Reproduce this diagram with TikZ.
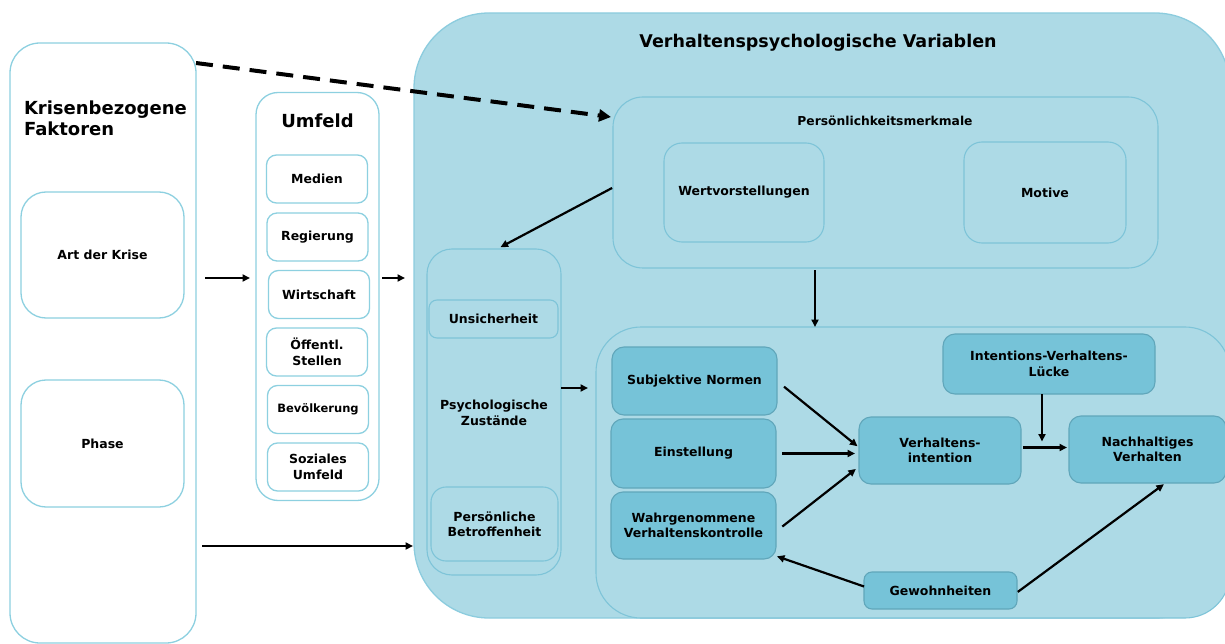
\documentclass[tikz,border=0pt]{standalone}
\usepackage{fontspec}
\setmainfont{DejaVu Sans}
\usetikzlibrary{arrows.meta}

\definecolor{paleline}{RGB}{141,208,224}
\definecolor{outerfill}{RGB}{173,218,230}
\definecolor{outerline}{RGB}{140,204,222}
\definecolor{innerline}{RGB}{126,196,216}
\definecolor{darkfill}{RGB}{118,195,216}
\definecolor{darkline}{RGB}{96,166,186}

\newcommand\txt[2]{\fontsize{#1}{#2}\selectfont\bfseries}

\tikzset{
  base/.style={align=center, inner sep=0pt, outer sep=0pt, text=black,
    font=\txt{12.5}{15.5}},
  whitebox/.style={base, draw=paleline, line width=1.3pt, fill=white},
  lightbox/.style={base, draw=innerline, line width=1.1pt, fill=outerfill},
  darkbox/.style={base, draw=darkline, line width=1.1pt, fill=darkfill},
  arr/.style={draw=black, line width=2.2pt,
    -{Triangle[length=7.5pt,width=7pt]}},
  dasharr/.style={draw=black, line width=4pt, dash pattern=on 17pt off 10pt,
    -{Triangle[length=12pt,width=12pt]}},
}

\begin{document}
\begin{tikzpicture}[x=1pt,y=-1pt]
\useasboundingbox (0,0) rectangle (1225,644);
\begin{scope}
\clip (0,0) rectangle (1225,644);

% crisis-related factors
\node[whitebox, rounded corners=30pt, minimum width=186pt, minimum height=600pt] (krisen) at (103,343) {};
\node[base, anchor=north west, align=left, font=\txt{18}{20.5}] (krisentitel) at (24,101) {Krisenbezogene\\Faktoren};
\node[whitebox, rounded corners=25pt, minimum width=163pt, minimum height=126pt] (art) at (102.5,255) {Art der Krise};
\node[whitebox, rounded corners=25pt, minimum width=163pt, minimum height=127pt] (phase) at (102.5,443.5) {Phase};

% environment
\node[whitebox, rounded corners=22pt, minimum width=123pt, minimum height=408pt] (umfeld) at (317.5,296.5) {};
\node[base, font=\txt{18}{20.5}] (umfeldtitel) at (317.5,121) {Umfeld};
\tikzset{sub/.style={whitebox, rounded corners=10pt, minimum width=101pt, minimum height=48pt}}
\node[sub] (medien) at (317,179) {Medien};
\node[sub] (regierung) at (317.5,237) {Regierung};
\node[sub] (wirtschaft) at (319,294.5) {Wirtschaft};
\node[sub] (stellen) at (317,352) {Öffentl.\\Stellen};
\node[sub, font=\txt{11.5}{14}] (bevoelkerung) at (318,409.5) {Bevölkerung};
\node[sub] (sozial) at (318,467) {Soziales\\Umfeld};

% behavioural-psychological variables
\node[base, draw=outerline, line width=1.3pt, fill=outerfill, rounded corners=75pt,
  minimum width=816pt, minimum height=605pt] (outer) at (822,315.5) {};
\node[base, font=\txt{17.5}{20}] (outertitel) at (818,43) {Verhaltenspsychologische Variablen};

% personality traits
\node[lightbox, rounded corners=30pt, minimum width=545pt, minimum height=171pt] (pers) at (885.5,182.5) {};
\node[base, font=\txt{12.3}{15}] (perstitel) at (885,121) {Persönlichkeitsmerkmale};
\node[lightbox, rounded corners=18pt, minimum width=160pt, minimum height=99pt] (wert) at (744,192.5) {Wertvorstellungen};
\node[lightbox, rounded corners=18pt, minimum width=162pt, minimum height=101pt] (motive) at (1045,192.5) {Motive};

% psychological states
\node[lightbox, rounded corners=25pt, minimum width=134pt, minimum height=326pt] (psych) at (494,412) {};
\node[base] (psychtitel) at (494,413) {Psychologische\\Zustände};
\node[lightbox, rounded corners=8pt, minimum width=129pt, minimum height=38pt] (unsicher) at (493.5,319) {Unsicherheit};
\node[lightbox, rounded corners=15pt, minimum width=127pt, minimum height=74pt] (betroffen) at (494.5,524) {Persönliche\\Betroffenheit};

% theory of planned behaviour
\node[lightbox, rounded corners=45pt, minimum width=634pt, minimum height=291pt] (tra) at (913,472.5) {};
\tikzset{core/.style={darkbox, rounded corners=12pt}}
\node[core, minimum width=165pt, minimum height=68pt] (normen) at (694.5,381) {Subjektive Normen};
\node[core, minimum width=165pt, minimum height=69pt] (einstellung) at (693.5,453.5) {Einstellung};
\node[core, minimum width=165pt, minimum height=67pt] (kontrolle) at (693.5,525.5) {Wahrgenommene\\Verhaltenskontrolle};
\node[core, minimum width=162pt, minimum height=67pt] (intention) at (940,450.5) {Verhaltens-\\intention};
\node[core, minimum width=157pt, minimum height=67pt] (verhalten) at (1147.5,449.5) {Nachhaltiges\\Verhalten};
\node[core, minimum width=212pt, minimum height=60pt] (luecke) at (1049,364) {Intentions-Verhaltens-\\Lücke};
\node[core, rounded corners=8pt, minimum width=153pt, minimum height=37pt] (gewohnheit) at (940.5,590.5) {Gewohnheiten};

% row levels for horizontal connectors
\coordinate (rowA) at (0,278);
\coordinate (rowB) at (0,546);
\coordinate (rowC) at (0,388);
\coordinate (colA) at (815,0);

% connectors
\draw[dasharr] ([yshift=-20pt]krisen.north east) -- ([xshift=-2pt,yshift=-20pt]pers.north west);
\draw[arr, shorten <=9pt, shorten >=6pt] (krisen.east |- rowA) -- (umfeld.west |- rowA);
\draw[arr, shorten <=3pt, shorten >=9pt] (umfeld.east |- rowA) -- (outer.west |- rowA);
\draw[arr, shorten <=6pt, shorten >=1pt] (krisen.east |- rowB) -- (outer.west |- rowB);
\draw[arr, shorten <=1pt, shorten >=4pt] ([yshift=-5pt]pers.west) -- ([xshift=3pt]psych.north);
\draw[arr, shorten <=2pt] (pers.south -| colA) -- (tra.north -| colA);
\draw[arr, shorten >=8pt] (psych.east |- rowC) -- (tra.west |- rowC);
\draw[arr, shorten <=9pt, shorten >=2pt] (normen.east) -- ([yshift=3pt]intention.west);
\draw[arr, shorten <=6pt, shorten >=4pt] (einstellung.east) -- (intention.west |- einstellung.east);
\draw[arr, shorten <=8pt, shorten >=4pt] ([yshift=-6pt]kontrolle.east) -- ([yshift=-16pt]intention.west);
\draw[arr, shorten <=2pt, shorten >=2pt] ([yshift=3pt]intention.east) -- ([yshift=3pt]intention.east -| verhalten.west);
\draw[arr, shorten >=9pt] ([xshift=-7pt]luecke.south) -- ([xshift=-7pt]luecke.south |- intention.east);
\draw[arr, shorten >=1pt] ([yshift=4pt]gewohnheit.west) -- ([yshift=3pt]kontrolle.south east);
\draw[arr, shorten <=1pt, shorten >=2pt] ([yshift=-2pt]gewohnheit.east) -- ([xshift=18pt]verhalten.south);
\end{scope}
\end{tikzpicture}
\end{document}
